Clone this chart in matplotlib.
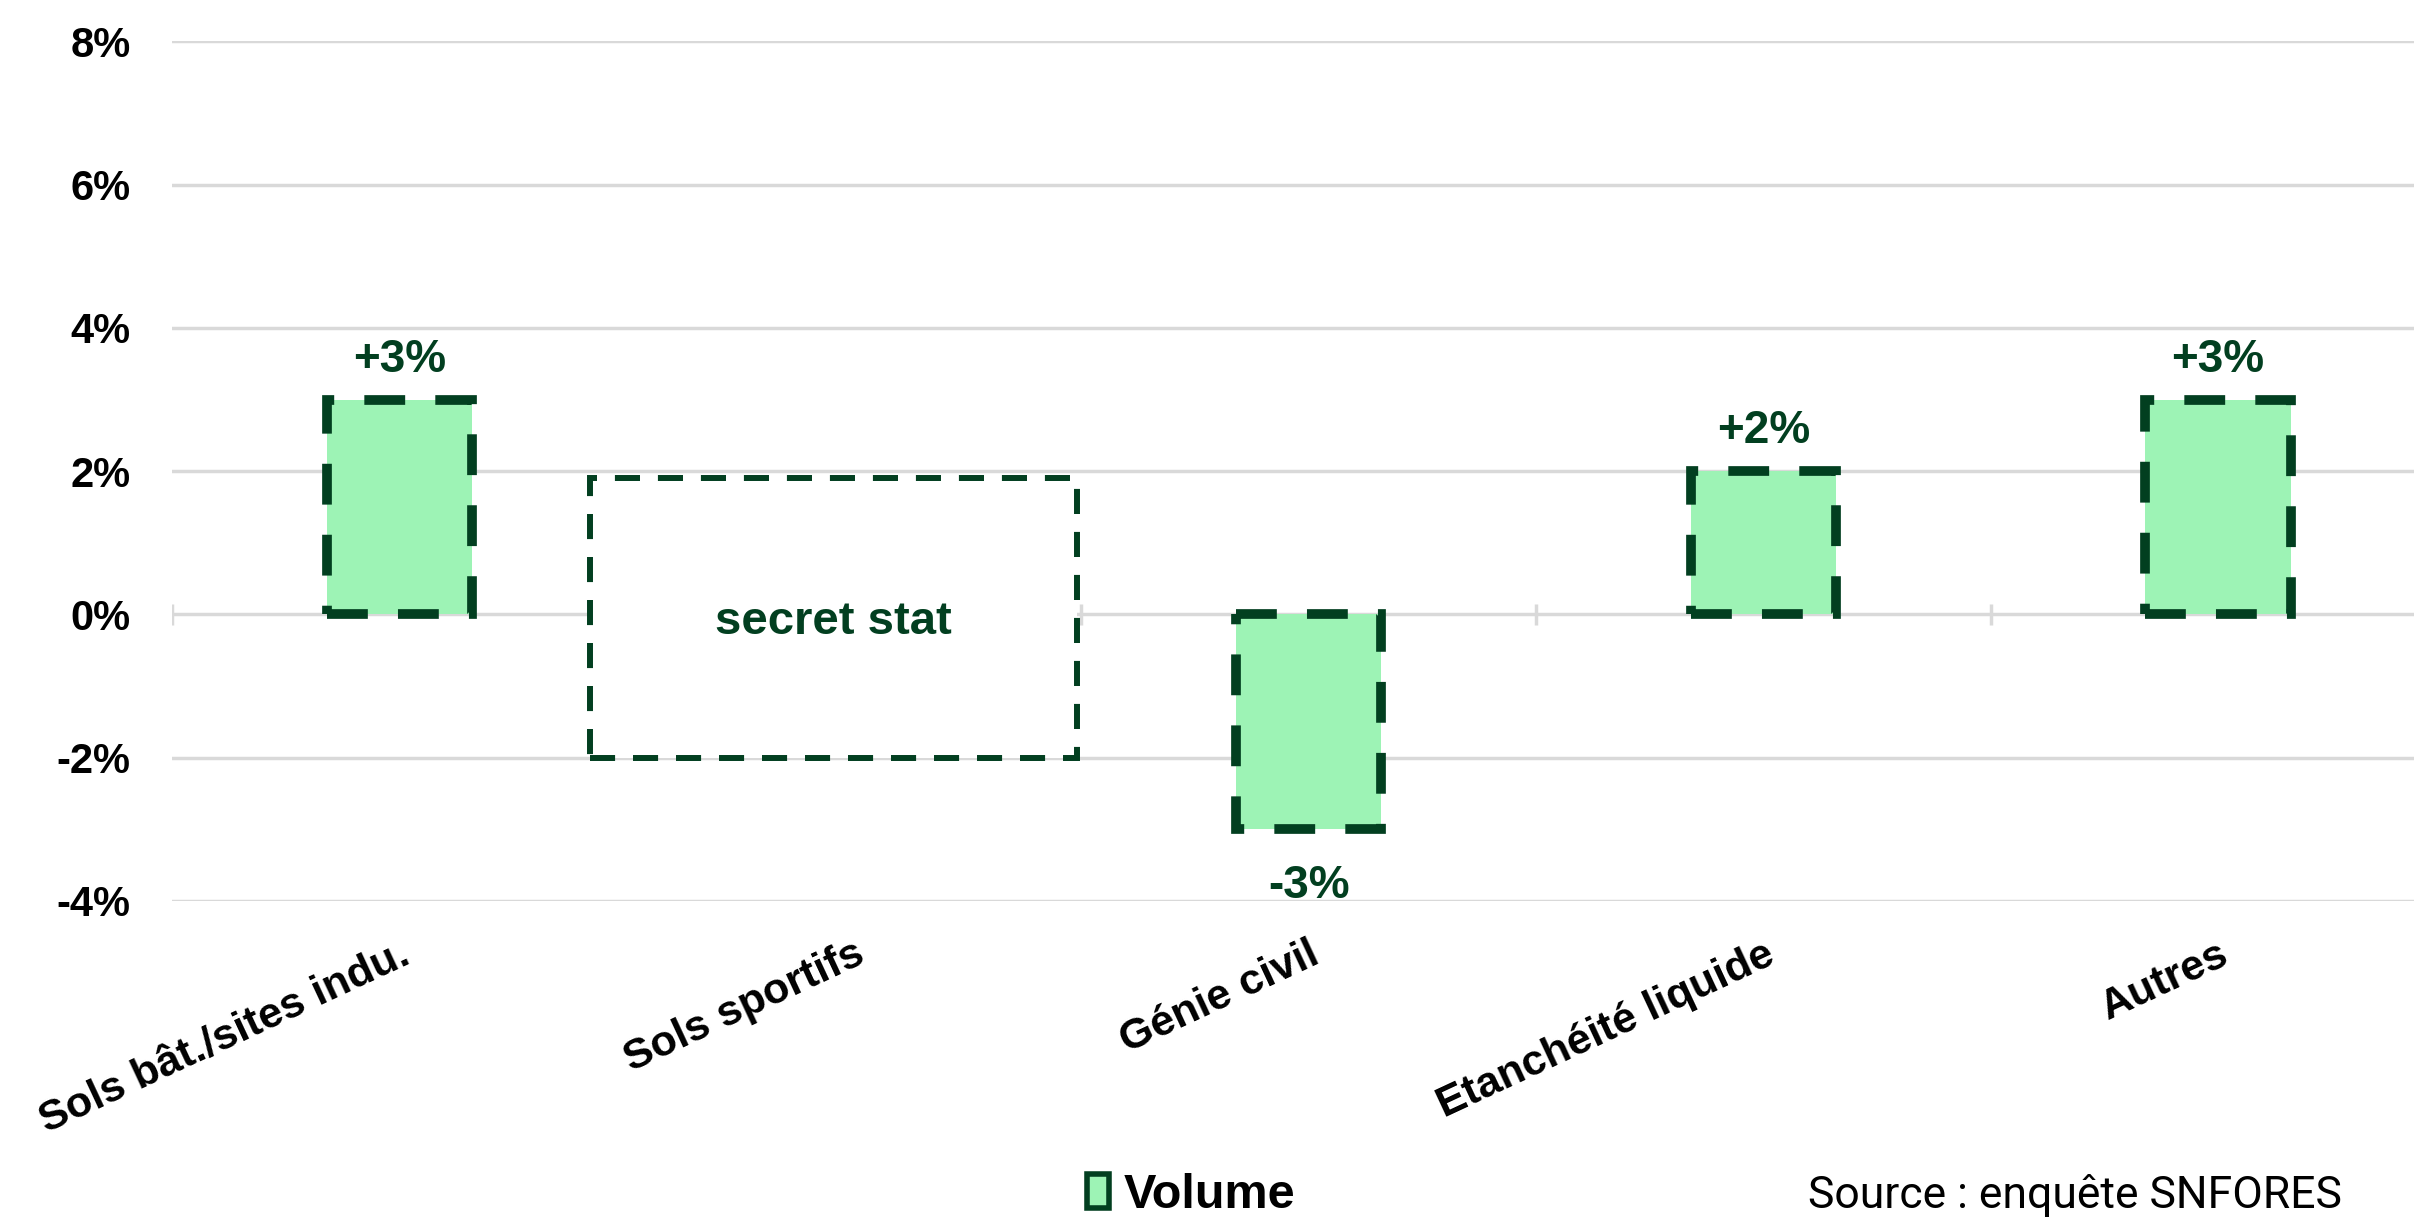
import numpy as np
import matplotlib
matplotlib.use('Agg')
import matplotlib.pyplot as plt
from matplotlib.patches import Rectangle, Patch

categories = ['Sols bât./sites indu.', 'Sols sportifs', 'Génie civil', 'Etanchéité liquide', 'Autres']
volume = [3, np.nan, -3, 2, 3]          # variation en %
secret_idx = 1                          # catégorie sous secret statistique
secret_range = [-2.0, 1.9]
y_ticks = [-4, -2, 0, 2, 4, 6, 8]

dark = '#023F20'
light = '#9DF3B5'
grid_col = '#D9D9D9'

plt.rcParams['font.family'] = ['Liberation Sans', 'DejaVu Sans']

fig = plt.figure(figsize=(24.14, 12.17), dpi=100)
ax = fig.add_axes([0.0713, 0.2597, 0.9417, 0.7062])

x = np.arange(len(categories))
ax.bar(x, volume, width=0.32, color=light, edgecolor=dark, linewidth=7,
       linestyle=(0, (4.2, 3.1)), zorder=3)

# étiquettes de valeur
for xi, v in zip(x, volume):
    if np.isnan(v):
        continue
    txt = '{:+.0f}%'.format(v)
    off = 13 if v > 0 else -25
    ax.annotate(txt, (xi, v), xytext=(0, off), textcoords='offset points',
                ha='center', va='bottom' if v > 0 else 'top',
                fontsize=33, fontweight='bold', color=dark)

# secret stat
box = Rectangle((secret_idx - 0.58, secret_range[0]), 1.07, secret_range[1] - secret_range[0],
                facecolor='white', edgecolor=dark, linewidth=4.3,
                linestyle=(0, (4.2, 3.0)), zorder=4)
ax.add_patch(box)
ax.text(secret_idx - 0.046, -0.1, 'secret stat', ha='center', va='center',
        fontsize=34, fontweight='bold', color=dark, zorder=5)

# axes
ax.set_xlim(-0.5, 4.5)
ax.set_ylim(y_ticks[0], y_ticks[-1])
ax.set_yticks(y_ticks)
ax.set_yticklabels(['{}%'.format(t) for t in y_ticks], fontsize=30, fontweight='bold')
ax.yaxis.grid(True, color=grid_col, linewidth=2.5, zorder=0)
ax.set_axisbelow(True)
for s in ax.spines.values():
    s.set_visible(False)
ax.tick_params(axis='y', length=0, pad=30)

ax.set_xticks(x)
ax.set_xticklabels(categories, fontsize=31, fontweight='bold', rotation=25,
                   ha='right', rotation_mode='anchor')
ax.tick_params(axis='x', length=0, pad=24)

# petits traits aux séparations de catégories
bounds = np.arange(len(categories) + 1) - 0.5
ax.vlines(bounds, -0.15, 0.15, color=grid_col, linewidth=2.5, zorder=1)

# légende
leg = fig.legend(handles=[Patch(facecolor=light, edgecolor=dark, linewidth=4)],
                 labels=['Volume'], loc='center', bbox_to_anchor=(0.4935, 0.018),
                 frameon=False, prop={'size': 35, 'weight': 'bold'},
                 handlelength=0.45, handleheight=0.7, handletextpad=0.3)

fig.text(0.97, 0.018, 'Source : enquête SNFORES', ha='right', va='center',
         fontsize=32, family=['Roboto', 'DejaVu Sans'])

plt.savefig('out.png', dpi=100)
